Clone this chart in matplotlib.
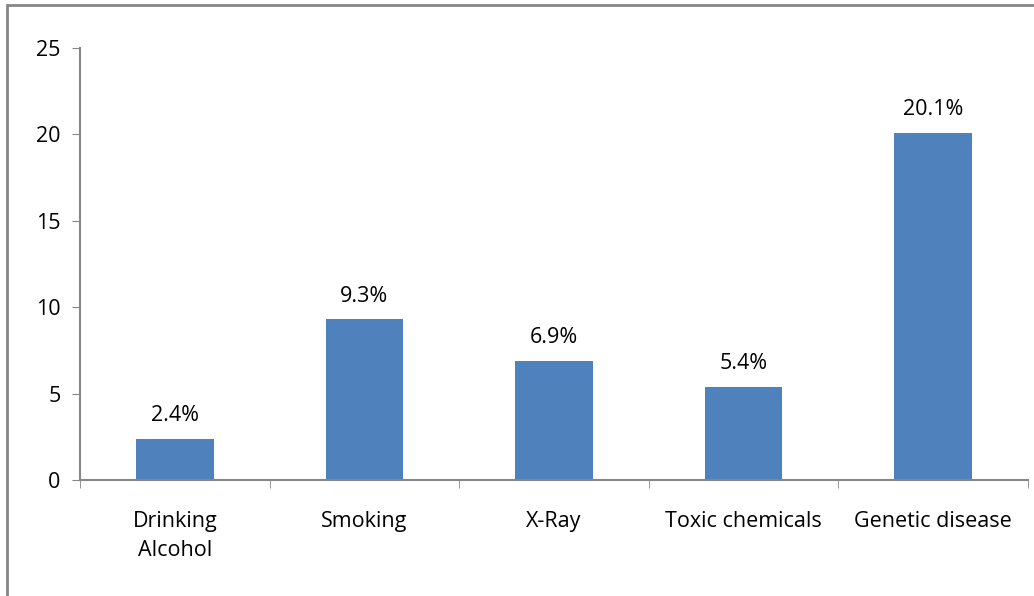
import matplotlib.pyplot as plt
from matplotlib.patches import Rectangle

categories = ["Drinking\nAlcohol", "Smoking", "X-Ray", "Toxic chemicals", "Genetic disease"]
values = [2.4, 9.3, 6.9, 5.4, 20.1]
labels = ["2.4%", "9.3%", "6.9%", "5.4%", "20.1%"]

plt.rcParams['font.family'] = ['Open Sans', 'DejaVu Sans']

fig = plt.figure(figsize=(10.34, 5.96), dpi=100)
# outer chart border (cut off at right and bottom)
fig.patches.append(Rectangle((7 / 1034, -0.1), 1.2, 1 - 5 / 596 + 0.1, transform=fig.transFigure,
                             fill=False, edgecolor="#868686", linewidth=2))

ax = fig.add_axes([80 / 1034, 1 - 480 / 596, (1028 - 80) / 1034, (480 - 48) / 596])
x = range(len(categories))
bars = ax.bar(x, values, width=0.41, color="#4F81BD")
for b, lab in zip(bars, labels):
    ax.annotate(lab, (b.get_x() + b.get_width() / 2, b.get_height()), xytext=(0, 9),
                textcoords="offset points", ha="center", va="bottom", fontsize=15.5)

ax.set_xlim(-0.5, len(categories) - 0.5)
ax.set_ylim(0, 25)
ax.set_yticks(range(0, 26, 5))
ax.set_xticks(x)
ax.set_xticklabels(categories, fontsize=15.5, linespacing=1.55)
ax.tick_params(axis="y", labelsize=15.5, length=6, color="#868686", pad=8)
ax.tick_params(axis="x", length=0, pad=22)
ax.set_xticks([i - 0.5 for i in range(len(categories) + 1)], minor=True)
ax.tick_params(axis="x", which="minor", length=6, color="#868686")
for s in ["top", "right"]:
    ax.spines[s].set_visible(False)
for s in ["left", "bottom"]:
    ax.spines[s].set_color("#868686")
    ax.spines[s].set_linewidth(1.5)

fig.savefig("out.png", dpi=100)
